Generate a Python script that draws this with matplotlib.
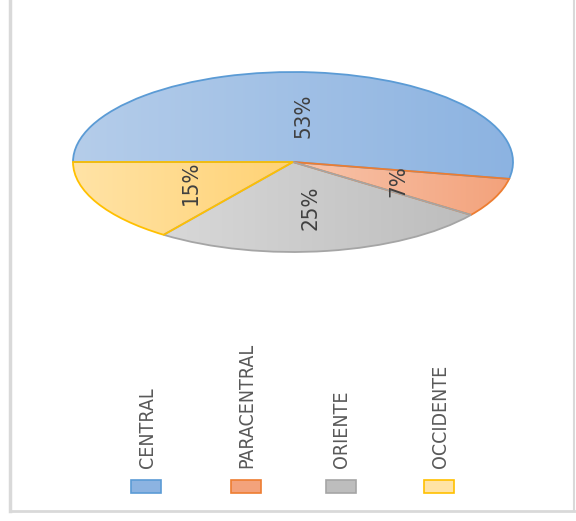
import numpy as np
import matplotlib
matplotlib.use('Agg')
import matplotlib.pyplot as plt
from matplotlib.colors import LinearSegmentedColormap
from matplotlib.patches import Rectangle
from matplotlib.lines import Line2D

# Datos del grafico
zonas = ['CENTRAL', 'PARACENTRAL', 'ORIENTE', 'OCCIDENTE']
porcentajes = [53, 7, 25, 15]

# colores (claro a la izquierda, oscuro a la derecha, borde)
claro = ['#b5cdea', '#f8c5ac', '#d8d8d8', '#ffe3a6']
oscuro = ['#8cb3e1', '#f3a27b', '#bdbdbd', '#ffd274']
bordes = ['#5b9bd5', '#ed7d31', '#a5a5a5', '#ffc000']

fuente = ['Liberation Sans Narrow', 'DejaVu Sans']

fig = plt.figure(figsize=(5.76, 5.21), dpi=100)

# Pie (estirado horizontalmente)
ax = fig.add_axes([73/576, 1-252/521, 440/576, 180/521])
wedges, textos, pcts = ax.pie(porcentajes, startangle=180, counterclock=False,
                              colors=claro, autopct='%1.0f%%', pctdistance=0.52,
                              wedgeprops=dict(linewidth=1.3),
                              textprops=dict(family=fuente, fontstretch='condensed',
                                             fontsize=16, color='#404040'))
for i, w in enumerate(wedges):
    w.set_edgecolor(bordes[i])
    ext = w.get_path().get_extents()
    cmap = LinearSegmentedColormap.from_list('g%d' % i, [claro[i], oscuro[i]])
    grad = np.linspace(0, 1, 256).reshape(1, -1)
    im = ax.imshow(grad, cmap=cmap, extent=[ext.x0, ext.x1, ext.y0, ext.y1],
                   aspect='auto', zorder=w.get_zorder() - 0.1)
    im.set_clip_path(w)
    w.set_facecolor('none')
for t in pcts:
    t.set_rotation(90)
    t.set_ha('center')
    t.set_va('center')
ax.set_xlim(-1.0, 1.0)
ax.set_ylim(-1.0, 1.0)
ax.set_aspect('auto')
ax.axis('off')

# Leyenda manual (texto vertical)
xs = [146, 246, 341, 439]
for i, z in enumerate(zonas):
    x = xs[i] / 576
    fig.patches.append(Rectangle((x - 15/576, 1-493/521), 30/576, 13/521,
                                 transform=fig.transFigure, facecolor=oscuro[i] if i != 3 else claro[i],
                                 edgecolor=bordes[i], linewidth=1.2))
    fig.text(x + 1/576, 1-468/521, z, rotation=90, ha='center', va='bottom',
             family=fuente, fontstretch='condensed', fontsize=14, color='#595959')

# Marco
c = '#d9d9d9'
fig.add_artist(Line2D([10/576, 10/576], [1.0, 1-511/521], transform=fig.transFigure, color=c, lw=2.5))
fig.add_artist(Line2D([10/576, 574/576], [1-511/521, 1-511/521], transform=fig.transFigure, color=c, lw=2))
fig.add_artist(Line2D([574/576, 574/576], [1.0, 1-511/521], transform=fig.transFigure, color=c, lw=1.5))

fig.savefig('out.png', dpi=100)
